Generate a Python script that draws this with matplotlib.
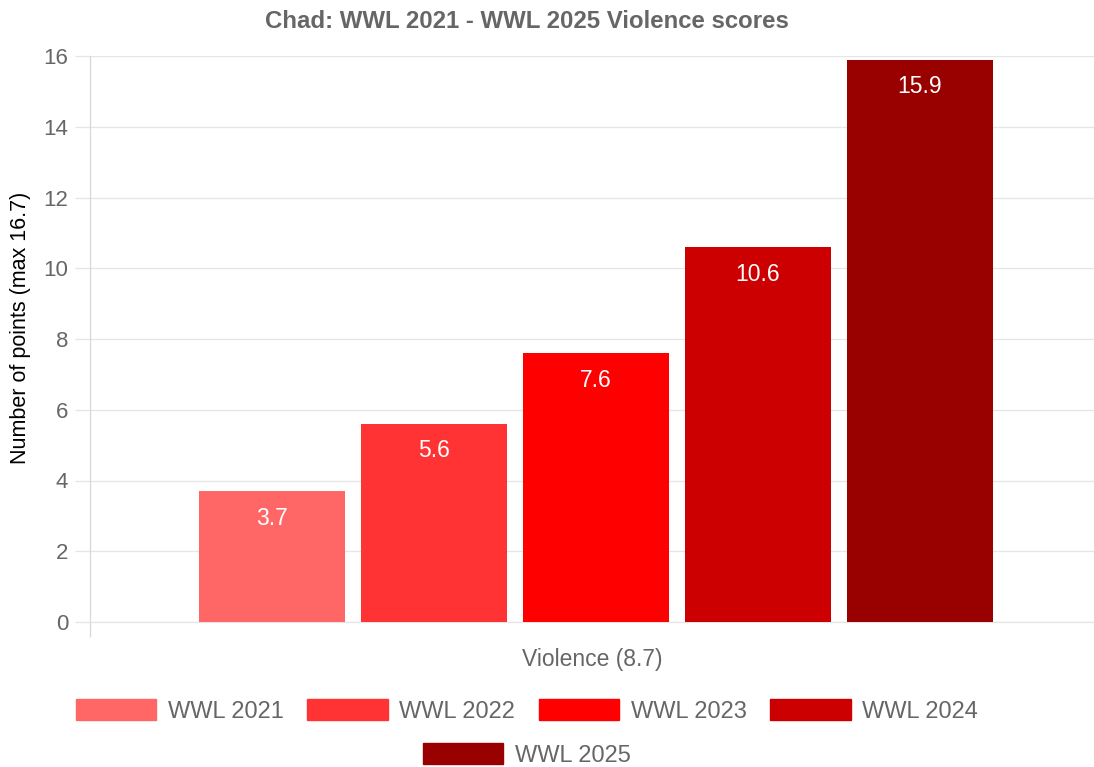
import numpy as np
import matplotlib
matplotlib.use("Agg")
import matplotlib.pyplot as plt
from matplotlib.patches import Rectangle

plt.rcParams['font.family'] = ['Liberation Sans', 'DejaVu Sans']

# data
category = "Violence (8.7)"
series = ["WWL 2021", "WWL 2022", "WWL 2023", "WWL 2024", "WWL 2025"]
values = [3.7, 5.6, 7.6, 10.6, 15.9]
colors = ["#ff6666", "#ff3333", "#ff0000", "#cc0000", "#990000"]
y_ticks = [0, 2, 4, 6, 8, 10, 12, 14, 16]

grid_c = "#e5e5e5"
text_c = "#666666"

fig = plt.figure(figsize=(10.94, 7.67), dpi=100)
# plot area runs a little past the right edge of the canvas
ax = fig.add_axes([90 / 1094, 145 / 767, 1012 / 1094, 566 / 767])

# bars: chart.js style, category 0.8, bar 0.9
slot = 0.8 / len(series)
for i, (s, v, c) in enumerate(zip(series, values, colors)):
    x = (i - (len(series) - 1) / 2) * slot
    ax.bar(x, v, width=slot * 0.9, color=c, zorder=3)
    ax.annotate(f"{v}", (x, v), xytext=(0, -19.5), textcoords="offset points",
                ha="center", va="center", color="white", fontsize=16.5, zorder=4)

ax.set_xlim(-0.5, 0.5)
ax.set_ylim(0, 16)
ax.set_yticks(y_ticks)
ax.set_xticks([-4 / 1012])
ax.set_xticklabels([category])
ax.set_xticks([-0.5], minor=True)

ax.grid(axis="y", color=grid_c, linewidth=0.9, zorder=0)
ax.tick_params(axis="y", length=10.8, width=0.9, color=grid_c, labelsize=16,
               labelcolor=text_c, pad=5)
ax.tick_params(axis="x", which="major", length=0, labelsize=16.5, labelcolor=text_c, pad=19)
ax.tick_params(axis="x", which="minor", length=10.8, width=0.9, color="#d8d8d8")

for sp in ["top", "right"]:
    ax.spines[sp].set_visible(False)
ax.spines["left"].set_color("#d8d8d8")
ax.spines["left"].set_linewidth(0.9)
ax.spines["bottom"].set_color(grid_c)
ax.spines["bottom"].set_linewidth(0.9)

ax.set_ylabel("Number of points (max 16.7)", fontsize=15.5, color="black")
ax.yaxis.set_label_coords(-0.058, 0.52)

fig.text(527 / 1094, 1 - 22 / 767, "Chad: WWL 2021 - WWL 2025 Violence scores",
         ha="center", va="center", fontsize=17.3, fontweight="bold", color=text_c)

# legend in two centred rows
handles = [Rectangle((0, 0), 1, 1, facecolor=c, edgecolor=c) for c in colors]
leg_kw = dict(loc="center", frameon=False, fontsize=17, labelcolor=text_c,
              handlelength=3.4, handleheight=0.97, handletextpad=0.5,
              columnspacing=1.0, borderpad=0, borderaxespad=0)
fig.legend(handles[:4], series[:4], ncol=4,
           bbox_to_anchor=(527 / 1094, 1 - 711 / 767), **leg_kw)
fig.legend(handles[4:], series[4:], ncol=1,
           bbox_to_anchor=(527 / 1094, 1 - 755 / 767), **leg_kw)

fig.savefig("out.png", dpi=100)
